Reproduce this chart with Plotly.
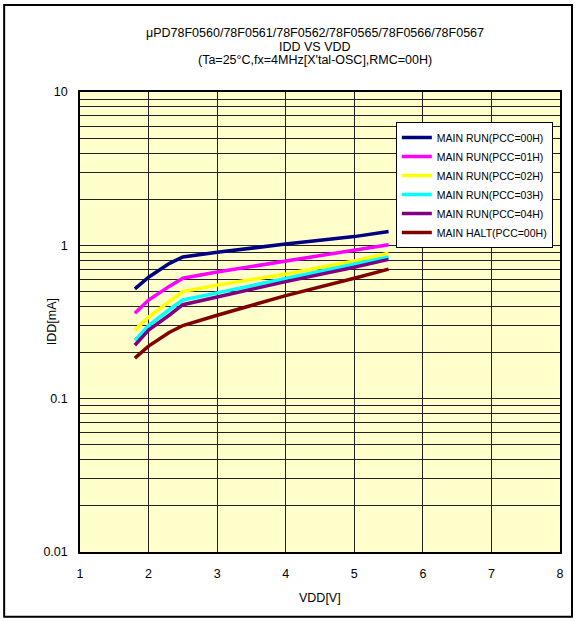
import plotly.graph_objects as go

vdd = [1.8, 2.0, 2.3, 2.5, 3.0, 4.0, 5.0, 5.5]
run_00 = [0.52, 0.62, 0.76, 0.84, 0.90, 1.02, 1.14, 1.23]
run_01 = [0.36, 0.44, 0.54, 0.61, 0.67, 0.79, 0.92, 1.01]
run_02 = [0.28, 0.34, 0.43, 0.50, 0.55, 0.65, 0.79, 0.89]
run_03 = [0.24, 0.30, 0.38, 0.44, 0.49, 0.61, 0.75, 0.84]
run_04 = [0.223, 0.28, 0.35, 0.41, 0.46, 0.58, 0.72, 0.81]
halt_00 = [0.184, 0.22, 0.27, 0.30, 0.35, 0.47, 0.61, 0.70]

series = [
    ("MAIN RUN(PCC=00H)", run_00, "#000080"),
    ("MAIN RUN(PCC=01H)", run_01, "#FF00FF"),
    ("MAIN RUN(PCC=02H)", run_02, "#FFFF00"),
    ("MAIN RUN(PCC=03H)", run_03, "#00FFFF"),
    ("MAIN RUN(PCC=04H)", run_04, "#800080"),
    ("MAIN HALT(PCC=00H)", halt_00, "#800000"),
]

title_lines = [
    "μPD78F0560/78F0561/78F0562/78F0565/78F0566/78F0567",
    "IDD VS VDD",
    "(Ta=25°C,fx=4MHz[X'tal-OSC],RMC=00H)",
]
x_title = "VDD[V]"
y_title = "IDD[mA]"

x_ticks = [1, 2, 3, 4, 5, 6, 7, 8]
decades = [0.01, 0.1, 1, 10]
y_labels = ["0.01", "0.1", "1", "10"]

yvals, ytext = [], []
for d, lab in zip(decades, y_labels):
    if d == 10:
        yvals.append(10); ytext.append(lab)
        continue
    for m in range(1, 10):
        yvals.append(d * m)
        ytext.append(lab if m == 1 else "")

fig = go.Figure()
for name, vals, color in series:
    fig.add_trace(go.Scatter(x=vdd, y=vals, mode="lines", name=name,
                             line=dict(color=color, width=3.5)))

font = "Liberation Sans, Arial, sans-serif"
fig.update_layout(
    width=576, height=621,
    margin=dict(l=80, r=16, t=92, b=69, autoexpand=False),
    paper_bgcolor="white",
    plot_bgcolor="#FFFFCC",
    font=dict(family=font, color="black", size=12),
    xaxis=dict(range=[1, 8], tickvals=x_ticks, showgrid=True, gridcolor="#222222",
               gridwidth=1, zeroline=False, showline=True, linecolor="black", linewidth=1.5,
               mirror=True, ticks="", tickfont=dict(size=12.5), ticklabelstandoff=9),
    yaxis=dict(type="log", range=[-2, 1], tickvals=yvals, ticktext=ytext,
               showgrid=True, gridcolor="#222222", gridwidth=1, zeroline=False,
               showline=True, linecolor="black", linewidth=1.5, mirror=True,
               ticks="", tickfont=dict(size=12.5), ticklabelstandoff=8),
    legend=dict(x=0.658, y=0.935, xanchor="left", yanchor="top",
                bgcolor="white", bordercolor="black", borderwidth=1,
                font=dict(size=10.5, family=font), tracegroupgap=0,
                entrywidth=126, entrywidthmode="pixels"),
    showlegend=True,
)

for txt, yp in zip(title_lines, [1.128, 1.0985, 1.069]):
    fig.add_annotation(text=txt, xref="paper", yref="paper", x=0.490, y=yp,
                       xanchor="center", yanchor="middle", showarrow=False,
                       font=dict(size=12.5, family=font))

fig.add_annotation(text=x_title, xref="paper", yref="paper", x=0.5, y=-0.1,
                   xanchor="center", yanchor="middle", showarrow=False,
                   font=dict(size=12.5, family=font))
fig.add_annotation(text=y_title, xref="paper", yref="paper", x=-0.058, y=0.5,
                   xanchor="center", yanchor="middle", showarrow=False, textangle=-90,
                   font=dict(size=12.5, family=font))

fig.add_shape(type="rect", xref="paper", yref="paper",
              x0=-0.158, x1=1.025, y0=-0.141, y1=1.189,
              line=dict(color="black", width=2), fillcolor="rgba(0,0,0,0)", layer="above")

fig.write_html("out.html", config={"displayModeBar": False},
               post_script="document.body.style.margin='0';")
